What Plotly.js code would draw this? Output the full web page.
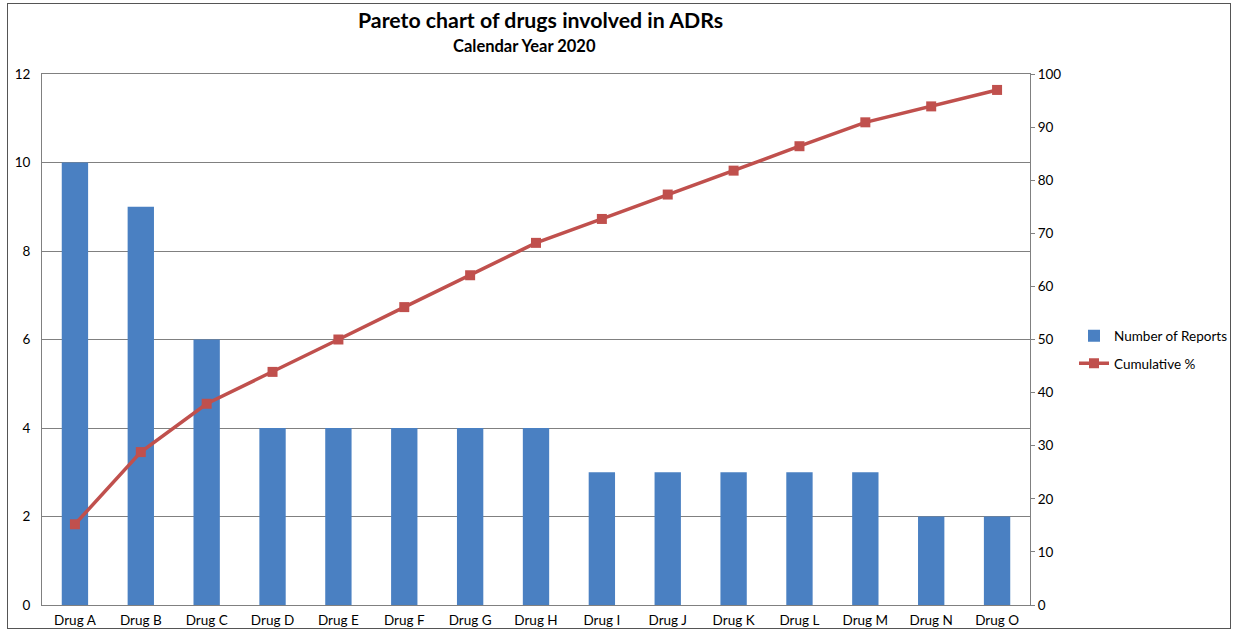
<!DOCTYPE html>
<html>
<head>
<meta charset="utf-8">
<script src="https://cdn.plot.ly/plotly-3.0.1.min.js"></script>
<style>
html,body{margin:0;padding:0;background:#fff;}
#frame{position:absolute;left:7px;top:3px;width:1224px;height:626px;border:1px solid #555;box-sizing:border-box;pointer-events:none;z-index:10;}
#chart{position:absolute;left:0;top:0;width:1235px;height:633px;}
</style>
</head>
<body>
<div id="chart"></div>
<div id="frame"></div>
<script>
const drugs = ["Drug A","Drug B","Drug C","Drug D","Drug E","Drug F","Drug G","Drug H","Drug I","Drug J","Drug K","Drug L","Drug M","Drug N","Drug O"];
const reports = [10,9,6,4,4,4,4,4,3,3,3,3,3,2,2];
const cumulativePct = [15.2,28.8,37.9,43.9,50.0,56.1,62.1,68.2,72.7,77.3,81.8,86.4,90.9,93.9,97.0];
const leftTicks = [0,2,4,6,8,10,12];
const rightTicks = [0,10,20,30,40,50,60,70,80,90,100];

const font = "Lato, 'Open Sans', 'Liberation Sans', sans-serif";

const traces = [
  {
    type: "bar", x: drugs, y: reports, name: "Number of Reports",
    marker: {color: "#4a80c2"}, yaxis: "y", legendgroup: "a"
  },
  {
    type: "scatter", mode: "lines+markers", x: drugs, y: cumulativePct, name: "Cumulative %",
    line: {color: "#c0504d", width: 3.5},
    marker: {symbol: "square", size: 10, color: "#c0504d"},
    yaxis: "y2", legendgroup: "b"
  }
];

const layout = {
  width: 1235, height: 633,
  margin: {l: 42, r: 205, t: 74, b: 28},
  paper_bgcolor: "#fff", plot_bgcolor: "#fff",
  font: {family: font, size: 13, color: "#000"},
  showlegend: true,
  bargap: 0.6,
  xaxis: {
    type: "category", range: [-0.5, drugs.length - 0.5], autorange: false,
    showgrid: false, ticks: "", showline: true, mirror: true, linecolor: "#808080", linewidth: 1,
    tickfont: {size: 13.5}, ticklabelstandoff: 3, fixedrange: true, automargin: false
  },
  yaxis: {
    range: [0, 12], tickvals: leftTicks, showgrid: true, gridcolor: "#808080", gridwidth: 1,
    showline: true, linecolor: "#808080", linewidth: 1, zeroline: false, ticks: "",
    ticklabelstandoff: 8, tickfont: {size: 13.5}, automargin: false
  },
  yaxis2: {
    overlaying: "y", side: "right", range: [0, 100], tickvals: rightTicks,
    showgrid: false, showline: true, linecolor: "#808080", linewidth: 1, zeroline: false,
    ticks: "outside", ticklen: 4, tickcolor: "#808080", tickfont: {size: 13.5}, automargin: false
  },
  legend: {
    xref: "container", yref: "container",
    x: 1074/1235, xanchor: "left", y: 1 - 350/633, yanchor: "middle",
    font: {size: 13.5}, bgcolor: "rgba(0,0,0,0)", traceorder: "grouped", tracegroupgap: 7
  },
  annotations: [
    {text: "<b>Pareto chart of drugs involved in ADRs</b>", xref: "paper", yref: "paper",
     x: (540-42)/988, y: 1 + (74-20)/531, xanchor: "center", yanchor: "middle", showarrow: false,
     font: {size: 21.3}},
    {text: "<b>Calendar Year 2020</b>", xref: "paper", yref: "paper",
     x: (524-42)/988, y: 1 + (74-46)/531, xanchor: "center", yanchor: "middle", showarrow: false,
     font: {size: 16.5}}
  ]
};

Plotly.newPlot("chart", traces, layout, {displayModeBar: false, staticPlot: true});
</script>
</body>
</html>
